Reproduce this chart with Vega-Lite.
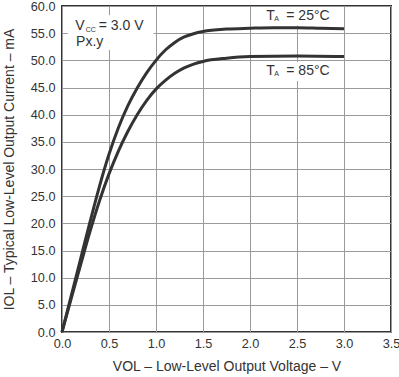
{
  "$schema": "https://vega.github.io/schema/vega-lite/v6.json",
  "width": 329,
  "height": 326,
  "autosize": "none",
  "padding": {"left": 62, "top": 6, "right": 8, "bottom": 45},
  "background": "white",
  "config": {
    "font": "Liberation Sans",
    "view": {"stroke": "#333333", "strokeWidth": 2},
    "axis": {
      "domain": false,
      "ticks": false,
      "grid": true,
      "gridColor": "#9a9a9a",
      "gridWidth": 1,
      "labelFont": "Liberation Sans",
      "labelFontSize": 12.7,
      "labelColor": "#333333",
      "labelFlush": false,
      "labelOverlap": false,
      "titleFont": "Liberation Sans",
      "titleFontSize": 14,
      "titleFontWeight": "normal",
      "titleColor": "#333333"
    }
  },
  "datasets": {
    "curves": [
      {"v": 0.0, "i": 0.0, "t": "25°C"},
      {"v": 0.1, "i": 6.8, "t": "25°C"},
      {"v": 0.2, "i": 13.6, "t": "25°C"},
      {"v": 0.3, "i": 20.4, "t": "25°C"},
      {"v": 0.4, "i": 26.9, "t": "25°C"},
      {"v": 0.5, "i": 32.7, "t": "25°C"},
      {"v": 0.6, "i": 37.6, "t": "25°C"},
      {"v": 0.7, "i": 41.6, "t": "25°C"},
      {"v": 0.8, "i": 44.9, "t": "25°C"},
      {"v": 0.9, "i": 47.7, "t": "25°C"},
      {"v": 1.0, "i": 50.0, "t": "25°C"},
      {"v": 1.1, "i": 51.9, "t": "25°C"},
      {"v": 1.2, "i": 53.3, "t": "25°C"},
      {"v": 1.3, "i": 54.3, "t": "25°C"},
      {"v": 1.4, "i": 54.9, "t": "25°C"},
      {"v": 1.5, "i": 55.3, "t": "25°C"},
      {"v": 1.75, "i": 55.75, "t": "25°C"},
      {"v": 2.0, "i": 55.9, "t": "25°C"},
      {"v": 2.25, "i": 56.0, "t": "25°C"},
      {"v": 2.5, "i": 56.0, "t": "25°C"},
      {"v": 2.75, "i": 55.9, "t": "25°C"},
      {"v": 3.0, "i": 55.8, "t": "25°C"},
      {"v": 0.0, "i": 0.0, "t": "85°C"},
      {"v": 0.1, "i": 6.3, "t": "85°C"},
      {"v": 0.2, "i": 12.5, "t": "85°C"},
      {"v": 0.3, "i": 18.6, "t": "85°C"},
      {"v": 0.4, "i": 24.2, "t": "85°C"},
      {"v": 0.5, "i": 29.1, "t": "85°C"},
      {"v": 0.6, "i": 33.3, "t": "85°C"},
      {"v": 0.7, "i": 36.9, "t": "85°C"},
      {"v": 0.8, "i": 40.0, "t": "85°C"},
      {"v": 0.9, "i": 42.6, "t": "85°C"},
      {"v": 1.0, "i": 44.7, "t": "85°C"},
      {"v": 1.1, "i": 46.3, "t": "85°C"},
      {"v": 1.2, "i": 47.6, "t": "85°C"},
      {"v": 1.3, "i": 48.6, "t": "85°C"},
      {"v": 1.4, "i": 49.3, "t": "85°C"},
      {"v": 1.5, "i": 49.8, "t": "85°C"},
      {"v": 1.75, "i": 50.4, "t": "85°C"},
      {"v": 2.0, "i": 50.7, "t": "85°C"},
      {"v": 2.5, "i": 50.8, "t": "85°C"},
      {"v": 3.0, "i": 50.7, "t": "85°C"}
    ],
    "boxes": [
      {"v": 0.06, "v2": 0.975, "i": 51.9, "i2": 58.3},
      {"v": 2.1, "v2": 2.97, "i": 56.4, "i2": 59.8},
      {"v": 2.1, "v2": 2.97, "i": 46.2, "i2": 49.7}
    ],
    "mainText": [
      {"v": 0.142, "i": 55.5, "label": "V"},
      {"v": 0.391, "i": 55.5, "label": "= 3.0 V"},
      {"v": 0.15, "i": 52.7, "label": "Px.y"},
      {"v": 2.172, "i": 57.5, "label": "T"},
      {"v": 2.386, "i": 57.5, "label": "= 25°C"},
      {"v": 2.172, "i": 47.25, "label": "T"},
      {"v": 2.386, "i": 47.25, "label": "= 85°C"}
    ],
    "subText": [
      {"v": 0.252, "i": 55.3, "label": "CC"},
      {"v": 2.258, "i": 57.3, "label": "A"},
      {"v": 2.258, "i": 47.05, "label": "A"}
    ]
  },
  "encoding": {
    "x": {
      "field": "v",
      "type": "quantitative",
      "scale": {"domain": [0, 3.5], "nice": false, "zero": true},
      "axis": {
        "values": [0, 0.5, 1, 1.5, 2, 2.5, 3, 3.5],
        "format": ".1f",
        "labelPadding": 5,
        "title": "VOL – Low-Level Output Voltage – V",
        "titlePadding": 10
      }
    },
    "y": {
      "field": "i",
      "type": "quantitative",
      "scale": {"domain": [0, 60], "nice": false, "zero": true},
      "axis": {
        "values": [0, 5, 10, 15, 20, 25, 30, 35, 40, 45, 50, 55, 60],
        "format": ".1f",
        "labelPadding": 7,
        "title": "IOL – Typical Low-Level Output Current – mA",
        "titlePadding": 14
      }
    }
  },
  "layer": [
    {
      "data": {"name": "boxes"},
      "mark": {"type": "rect", "fill": "white", "stroke": null},
      "encoding": {
        "x2": {"field": "v2"},
        "y2": {"field": "i2"}
      }
    },
    {
      "data": {"name": "curves"},
      "mark": {"type": "line", "color": "#333333", "strokeWidth": 3, "interpolate": "monotone"},
      "encoding": {
        "detail": {"field": "t", "type": "nominal"}
      }
    },
    {
      "data": {"name": "mainText"},
      "mark": {"type": "text", "align": "left", "baseline": "alphabetic", "fontSize": 14, "color": "#333333"},
      "encoding": {
        "text": {"field": "label", "type": "nominal"}
      }
    },
    {
      "data": {"name": "subText"},
      "mark": {"type": "text", "align": "left", "baseline": "alphabetic", "fontSize": 7, "color": "#333333"},
      "encoding": {
        "text": {"field": "label", "type": "nominal"}
      }
    }
  ]
}
